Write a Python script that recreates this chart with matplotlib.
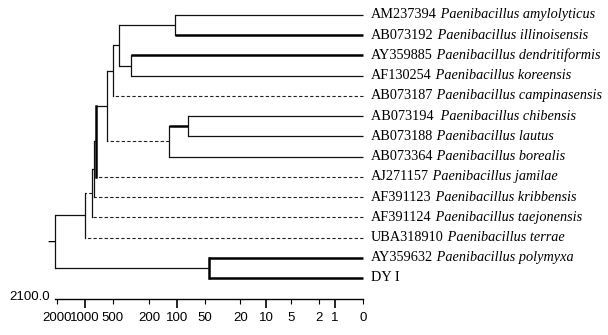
import numpy as np
import matplotlib
matplotlib.use("Agg")
import matplotlib.pyplot as plt
from matplotlib.ticker import FixedLocator, FixedFormatter

# ---- data ----
accessions = ["AM237394", "AB073192", "AY359885", "AF130254", "AB073187",
              "AB073194 ", "AB073188", "AB073364", "AJ271157", "AF391123",
              "AF391124", "UBA318910", "AY359632", "DY I"]
species = ["Paenibacillus amylolyticus", "Paenibacillus illinoisensis",
           "Paenibacillus dendritiformis", "Paenibacillus koreensis",
           "Paenibacillus campinasensis", "Paenibacillus chibensis",
           "Paenibacillus lautus", "Paenibacillus borealis",
           "Paenibacillus jamilae", "Paenibacillus kribbensis",
           "Paenibacillus taejonensis", "Paenibacillus terrae",
           "Paenibacillus polymyxa", ""]
leaf_style = ["thin", "thick", "thick", "thin", "dash", "thin", "thin", "thin",
              "dash", "dash", "dash", "dash", "thick", "thick"]

node_names = ["A", "B", "AB", "ABC", "D", "DE", "U", "J", "K", "Tj", "T", "P", "Root"]
node_children = [(0, 1), (2, 3), ("A", "B"), ("AB", 4), (5, 6), ("D", 7),
                 ("ABC", "DE"), ("U", 8), ("J", 9), ("K", 10), ("Tj", 11),
                 (12, 13), ("T", "P")]
node_heights = [106, 318, 425, 493, 76, 123, 581, 764, 787, 838, 997, 45, 2100]
node_style = ["thin", "thin", "thin", "thin", "thick", "dash", "thin", "thin",
              "thin", "dash", "thin", "thin", "thin"]
node_vstyle = ["thin", "thin", "thin", "thin", "thin", "thin", "thin", "thick",
               "thin", "thin", "thin", "thick", "thin"]

major_ticks = [1000, 100, 10, 1]
minor_ticks = [2000, 500, 200, 50, 20, 5, 2, 0]
scale_max = 2100.0

# ---- styles ----
styles = {
    "thin": dict(lw=0.9, ls="-", color="#111111"),
    "thick": dict(lw=1.8, ls="-", color="#000000"),
    "dash": dict(lw=0.8, ls=(0, (3, 2)), color="#222222"),
}

W, H = 608, 335
fig = plt.figure(figsize=(W / 100, H / 100), dpi=100)
ax = fig.add_axes([55 / W, (H - 299) / H, 308 / W, 299 / H])

fwd = lambda d: np.log10(np.clip(d, 0, None) + 1)
inv = lambda v: 10 ** v - 1
ax.set_xscale("function", functions=(fwd, inv))
ax.set_xlim(scale_max, 0)
n = len(accessions)
ax.set_ylim(14.04, -0.741)

pos = {}
hgt = {}
for i in range(n):
    pos[i] = float(i)
    hgt[i] = 0.0
sty = {i: leaf_style[i] for i in range(n)}
for name, ch, h, st in zip(node_names, node_children, node_heights, node_style):
    pos[name] = (pos[ch[0]] + pos[ch[1]]) / 2
    hgt[name] = h
    sty[name] = st

for name, ch, h, vs in zip(node_names, node_children, node_heights, node_vstyle):
    ax.plot([h, h], [pos[ch[0]], pos[ch[1]]], **styles[vs], clip_on=False,
            solid_capstyle="projecting")
    for c in ch:
        ax.plot([hgt[c], h], [pos[c], pos[c]], **styles[sty[c]], clip_on=False,
                solid_capstyle="butt")

# root stub
ax.annotate("", xy=(node_heights[-1], pos["Root"]), xytext=(-6, 0),
            textcoords="offset pixels",
            arrowprops=dict(arrowstyle="-", lw=0.9, shrinkA=0, shrinkB=0))

# labels
serif = "Liberation Serif"
for i in range(n):
    t = ax.annotate(accessions[i], xy=(0, i), xytext=(8, 0),
                    textcoords="offset pixels", va="center", ha="left",
                    fontsize=10.3, family=serif, annotation_clip=False)
    if species[i]:
        ax.annotate(" " + species[i], xy=(1, 0), xycoords=t, va="bottom",
                    ha="left", fontsize=10.3, family=serif, style="italic",
                    annotation_clip=False)

# axis
for s in ["top", "left", "right"]:
    ax.spines[s].set_visible(False)
ax.spines["bottom"].set_linewidth(1.0)
ax.set_yticks([])
ax.xaxis.set_major_locator(FixedLocator(major_ticks))
ax.xaxis.set_major_formatter(FixedFormatter([str(v) for v in major_ticks]))
ax.xaxis.set_minor_locator(FixedLocator(minor_ticks))
ax.xaxis.set_minor_formatter(FixedFormatter([str(v) for v in minor_ticks]))
ax.tick_params(axis="x", which="major", direction="out", length=6.5, width=1.2,
               pad=3.2, labelsize=9.5)
ax.tick_params(axis="x", which="minor", direction="out", length=3.6, width=0.8,
               pad=6.1, labelsize=9.5)
for lab in ax.get_xticklabels(minor=False) + ax.get_xticklabels(minor=True):
    lab.set_family("Liberation Sans")

ax.annotate(f"{scale_max:.1f}", xy=(0, 0), xycoords="axes fraction",
            xytext=(-5, 2), textcoords="offset pixels", ha="right", va="center",
            fontsize=9.5, family="Liberation Sans", annotation_clip=False)

fig.savefig("out.png", dpi=100)
